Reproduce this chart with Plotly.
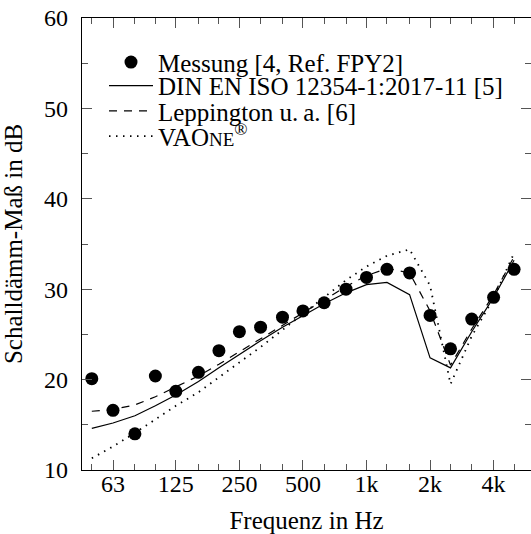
import plotly.graph_objects as go

# Third-octave band centre frequencies (Hz)
freq = [50, 63, 80, 100, 125, 160, 200, 250, 315, 400, 500, 630, 800,
        1000, 1250, 1600, 2000, 2500, 3150, 4000, 5000]

# Measurement [4, Ref. FPY2]
meas = [20.1, 16.6, 14.0, 20.4, 18.7, 20.8, 23.2, 25.3, 25.8, 26.9, 27.6,
        28.5, 30.0, 31.3, 32.2, 31.8, 27.1, 23.4, 26.7, 29.1, 32.2]

# DIN EN ISO 12354-1:2017-11 [5]
din = [14.6, 15.2, 16.0, 17.1, 18.3, 19.8, 21.3, 22.8, 24.3, 25.8, 27.1,
       28.4, 29.6, 30.5, 30.75, 29.4, 22.4, 21.3, 25.3, 29.1, 33.2]

# Leppington u. a. [6]
lepp = [16.5, 16.7, 17.2, 18.1, 19.2, 20.4, 21.7, 23.1, 24.5, 26.0, 27.4,
        28.8, 30.3, 31.5, 32.3, 31.8, 27.6, 21.6, 25.6, 29.4, 33.6]

# VA One
vaone = [11.3, 12.6, 14.1, 15.6, 17.1, 18.6, 20.3, 21.9, 23.6, 25.5, 27.3,
         29.2, 31.0, 32.5, 33.7, 34.4, 30.4, 19.5, 24.8, 29.0, 34.0]

tick_vals = [63, 125, 250, 500, 1000, 2000, 4000]
tick_text = ["63", "125", "250", "500", "1k", "2k", "4k"]
minor_vals = [f for f in freq if f not in tick_vals]

FONT = "'Liberation Serif', 'Times New Roman', Times, serif"
FS = 24
FS_LEG = 25

fig = go.Figure()
fig.add_trace(go.Scatter(
    x=freq, y=meas, mode="markers", name="Messung [4, Ref. FPY2]",
    marker=dict(color="black", size=13), legend="legend", showlegend=True))
fig.add_trace(go.Scatter(
    x=freq, y=din, mode="lines", name="DIN EN ISO 12354-1:2017-11 [5]",
    line=dict(color="black", width=1.2), legend="legend2", showlegend=True))
fig.add_trace(go.Scatter(
    x=freq, y=lepp, mode="lines", name="Leppington u.\u2009a. [6]",
    line=dict(color="black", width=1.2, dash="8px,7px"), legend="legend3",
    showlegend=True))
fig.add_trace(go.Scatter(
    x=freq, y=vaone, mode="lines",
    name="VAO<span style='font-size:19px'>NE</span><sup>®</sup>",
    line=dict(color="black", width=1.8, dash="1.5px,5.5px"), legend="legend4",
    showlegend=True))

def leg(y):
    return dict(x=0.049, y=y, xanchor="left", yanchor="middle",
                bgcolor="rgba(0,0,0,0)", borderwidth=0, itemwidth=44,
                font=dict(family=FONT, size=FS_LEG, color="black"))

fig.update_layout(
    width=531, height=534, showlegend=True,
    margin=dict(l=82, r=0, t=18, b=64, autoexpand=False),
    paper_bgcolor="white", plot_bgcolor="white",
    font=dict(family=FONT, size=FS, color="black"),
    legend=leg(0.902), legend2=leg(0.850), legend3=leg(0.794), legend4=leg(0.738),
    xaxis=dict(
        type="log", range=[1.6525, 3.7791], automargin=False,
        tickmode="array", tickvals=tick_vals, ticktext=tick_text,
        ticks="inside", ticklen=10, tickwidth=1, tickcolor="#555",
        minor=dict(tickmode="array", tickvals=minor_vals, ticks="inside",
                   ticklen=6, tickwidth=1, tickcolor="#555"),
        showline=True, linecolor="black", linewidth=1.3, mirror="ticks",
        showgrid=False, zeroline=False, ticklabelstandoff=-8,
        title=dict(text="Frequenz in Hz", standoff=20,
                   font=dict(family=FONT, size=25)),
        tickfont=dict(family=FONT, size=FS),
    ),
    yaxis=dict(
        range=[10, 60], tickmode="linear", tick0=0, dtick=10, automargin=False,
        ticks="inside", ticklen=10, tickwidth=1, tickcolor="#555",
        minor=dict(dtick=5, ticks="inside", ticklen=6, tickwidth=1,
                   tickcolor="#555"),
        showline=True, linecolor="black", linewidth=1.3, mirror="ticks",
        showgrid=False, zeroline=False, ticklabelstandoff=8,
        title=dict(text="Schalldämm-Maß in dB", standoff=15,
                   font=dict(family=FONT, size=25)),
        tickfont=dict(family=FONT, size=FS),
    ),
)

# remove the browser's default 8 px body margin so the figure fills the window
fig.write_html("out.html",
               config={"displayModeBar": False},
               post_script="document.body.style.margin='0';"
                           "document.body.style.overflow='hidden';")
